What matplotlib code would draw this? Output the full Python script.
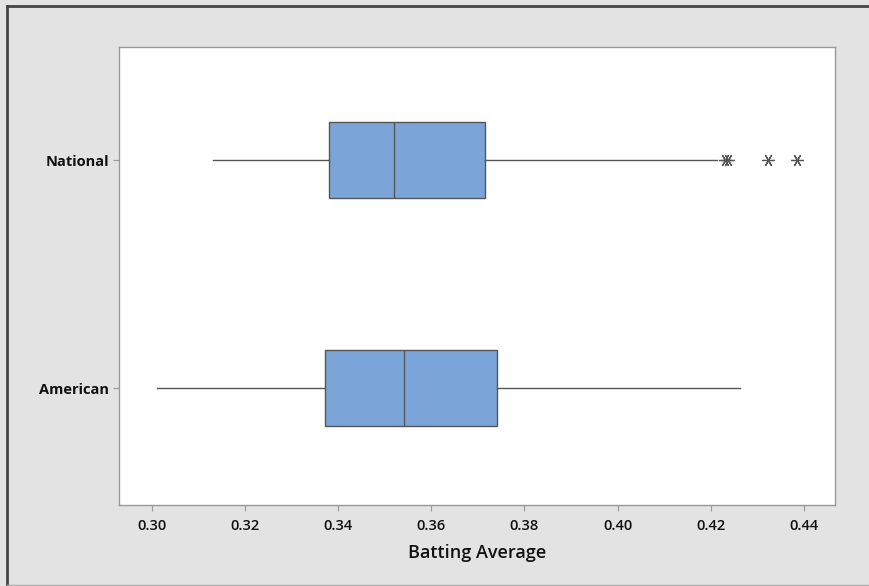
import matplotlib
matplotlib.use("Agg")
import matplotlib.pyplot as plt
from matplotlib.lines import Line2D

plt.rcParams['font.family'] = ['Open Sans', 'DejaVu Sans']

categories = ["American", "National"]
whislo = [0.3011, 0.3131]
q1 = [0.3371, 0.3380]
med = [0.3541, 0.3520]
q3 = [0.3741, 0.3715]
whishi = [0.4263, 0.4213]
outliers = [[], [0.4230, 0.4238, 0.4323, 0.4385]]
xticks = [0.30, 0.32, 0.34, 0.36, 0.38, 0.40, 0.42, 0.44]
xlabel = "Batting Average"

W, H = 869, 586
fig = plt.figure(figsize=(W / 100, H / 100), dpi=100, facecolor="#e3e3e3")
ax = fig.add_axes([119 / W, (H - 505) / H, (835 - 119) / W, (505 - 47) / H])
ax.set_facecolor("white")

stats = []
for i, c in enumerate(categories):
    stats.append(dict(label=c, whislo=whislo[i], q1=q1[i], med=med[i],
                      q3=q3[i], whishi=whishi[i], fliers=outliers[i]))

ax.bxp(stats, positions=[1, 2], orientation="horizontal", widths=0.33,
       patch_artist=True, showcaps=False,
       boxprops=dict(facecolor="#7ba5d8", edgecolor="#555555", linewidth=1.0),
       medianprops=dict(color="#555555", linewidth=1.0),
       whiskerprops=dict(color="#555555", linewidth=1.0),
       flierprops=dict(marker=(6, 2, 90), markersize=9, markeredgecolor="#555555",
                       markerfacecolor="none", linestyle="none", markeredgewidth=0.9))

ax.set_xlim(0.2929, 0.4467)
ax.set_ylim(0.487, 2.496)
ax.set_xticks(xticks)
ax.set_xticklabels([f"{t:.2f}" for t in xticks], fontweight="semibold")
ax.set_yticks([1, 2])
ax.set_yticklabels(categories, fontweight="bold")
ax.tick_params(axis="both", colors="#999999", labelcolor="#111111", length=4,
               width=0.8, labelsize=10.5)
ax.tick_params(axis="x", pad=6)
ax.tick_params(axis="y", pad=3)
for s in ax.spines.values():
    s.set_color("#999999")
    s.set_linewidth(1.0)
ax.set_xlabel(xlabel, fontsize=13, color="#111111", labelpad=8, fontweight="semibold")

# figure border
fig.add_artist(Line2D([7 / W, 7 / W], [0, 1 - 6 / H], transform=fig.transFigure,
                      color="#444444", linewidth=2))
fig.add_artist(Line2D([7 / W, 1], [1 - 6 / H, 1 - 6 / H], transform=fig.transFigure,
                      color="#444444", linewidth=2))
fig.add_artist(Line2D([7 / W, 1], [1.5 / H, 1.5 / H], transform=fig.transFigure,
                      color="#aaaaaa", linewidth=1))

fig.savefig("out.png", dpi=100, facecolor=fig.get_facecolor())
